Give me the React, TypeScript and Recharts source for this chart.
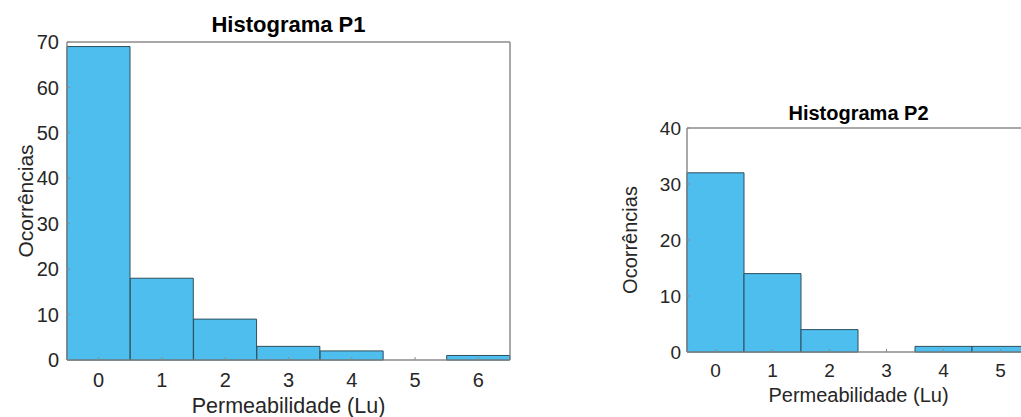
import { BarChart, Bar, XAxis, YAxis, ReferenceArea } from 'recharts';

// Histograma P1
const binsP1 = ['0', '1', '2', '3', '4', '5', '6'];
const countsP1 = [69, 18, 9, 3, 2, 0, 1];
const yTicksP1 = [0, 10, 20, 30, 40, 50, 60, 70];

// Histograma P2
const binsP2 = ['0', '1', '2', '3', '4', '5'];
const countsP2 = [32, 14, 4, 0, 1, 1];
const yTicksP2 = [0, 10, 20, 30, 40];

const dataP1 = binsP1.map((bin, i) => ({ bin, count: countsP1[i] }));
const dataP2 = binsP2.map((bin, i) => ({ bin, count: countsP2[i] }));

const FONT = '"Liberation Sans", Arial, Helvetica, sans-serif';
const BAR_FILL = '#4DBEEE';
const BAR_EDGE = '#2f4f5c';
const AXIS = '#8c8c8c';
const TEXT = '#262626';

interface HistProps {
  data: { bin: string; count: number }[];
  yTicks: number[];
  width: number;
  height: number;
  margin: { top: number; right: number; left: number; bottom: number };
  yWidth: number;
  xHeight: number;
  yTickMargin: number;
  xTickMargin: number;
  tickFont: number;
}

const Histogram = ({ data, yTicks, width, height, margin, yWidth, xHeight, yTickMargin, xTickMargin, tickFont }: HistProps) => {
  const yMax = yTicks[yTicks.length - 1];
  const tickStyle = { fontSize: tickFont, fontFamily: FONT, fill: TEXT };
  return (
    <BarChart width={width} height={height} data={data} margin={margin} barCategoryGap={0}>
      <XAxis
        dataKey="bin"
        type="category"
        height={xHeight}
        interval={0}
        tick={tickStyle}
        tickSize={-3}
        tickMargin={xTickMargin}
        axisLine={{ stroke: AXIS }}
        tickLine={{ stroke: AXIS }}
      />
      {/* top and right edges of the box, ticks pointing inward like MATLAB */}
      <XAxis
        xAxisId="top"
        dataKey="bin"
        type="category"
        orientation="top"
        height={1}
        interval={0}
        tick={false}
        tickSize={-3}
        axisLine={{ stroke: AXIS }}
        tickLine={{ stroke: AXIS }}
      />
      <YAxis
        width={yWidth}
        domain={[0, yMax]}
        ticks={yTicks}
        tick={tickStyle}
        tickSize={-3}
        tickMargin={yTickMargin}
        axisLine={{ stroke: AXIS }}
        tickLine={{ stroke: AXIS }}
      />
      <YAxis
        yAxisId="right"
        orientation="right"
        width={1}
        domain={[0, yMax]}
        ticks={yTicks}
        tick={false}
        tickSize={-3}
        axisLine={{ stroke: AXIS }}
        tickLine={{ stroke: AXIS }}
      />
      <ReferenceArea
        x1={data[0].bin}
        x2={data[data.length - 1].bin}
        y1={0}
        y2={yMax}
        fill="none"
        stroke={AXIS}
        strokeWidth={1}
      />
      <Bar dataKey="count" fill={BAR_FILL} stroke={BAR_EDGE} strokeWidth={1} isAnimationActive={false} />
      <Bar xAxisId="top" yAxisId="right" dataKey="count" fill="none" stroke="none" isAnimationActive={false} />
    </BarChart>
  );
};

const App = () => {
  return (
    <div style={{ position: 'fixed', left: 0, top: 0, width: 1021, height: 417, overflow: 'hidden', background: '#fff' }}>
      <div style={{ position: 'absolute', left: 0, top: 0 }}>
        <Histogram
          data={dataP1}
          yTicks={yTicksP1}
          width={530}
          height={417}
          margin={{ top: 41, right: 19, left: 0, bottom: 0 }}
          yWidth={67}
          xHeight={57}
          yTickMargin={11}
          xTickMargin={16}
          tickFont={20}
        />
      </div>
      <div style={{ position: 'absolute', left: 600, top: 0 }}>
        <Histogram
          data={dataP2}
          yTicks={yTicksP2}
          width={450}
          height={417}
          margin={{ top: 127, right: 20, left: 0, bottom: 0 }}
          yWidth={87}
          xHeight={65}
          yTickMargin={9}
          xTickMargin={15}
          tickFont={19}
        />
      </div>
      <svg width={1021} height={417} style={{ position: 'absolute', left: 0, top: 0, pointerEvents: 'none' }} fontFamily={FONT} fill={TEXT}>
        <text x={288.5} y={32} textAnchor="middle" fontSize={22} fontWeight="bold" fill="#000">Histograma P1</text>
        <text x={288.5} y={413} textAnchor="middle" fontSize={21.5}>Permeabilidade (Lu)</text>
        <text transform="translate(33,201) rotate(-90)" textAnchor="middle" fontSize={21}>Ocorrências</text>
        <text x={858.5} y={120} textAnchor="middle" fontSize={20} fontWeight="bold" fill="#000">Histograma P2</text>
        <text x={858.5} y={402} textAnchor="middle" fontSize={20}>Permeabilidade (Lu)</text>
        <text transform="translate(637,240) rotate(-90)" textAnchor="middle" fontSize={20}>Ocorrências</text>
      </svg>
    </div>
  );
};

export default App;
